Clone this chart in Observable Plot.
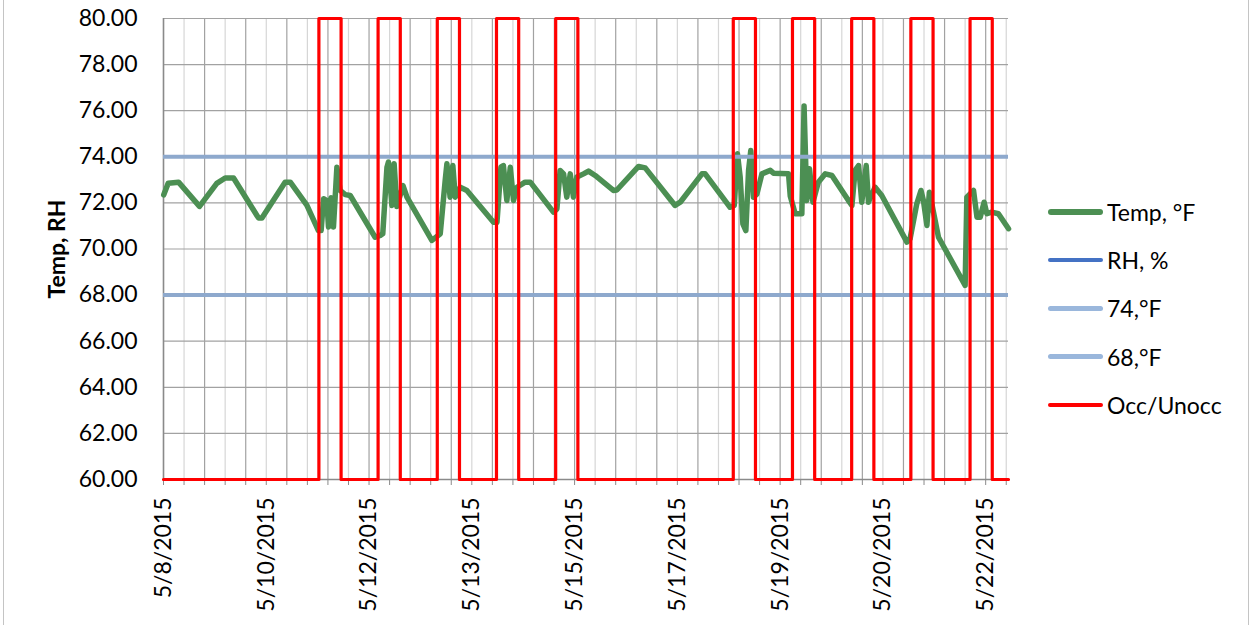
<!DOCTYPE html>
<html>
<head>
<meta charset="utf-8">
<script src="https://cdn.jsdelivr.net/npm/d3@7"></script>
<script src="https://cdn.jsdelivr.net/npm/@observablehq/plot@0.6"></script>
<style>
  body { margin: 0; background: #fff; }
  #chart { position: relative; width: 1252px; height: 625px; font-family: Lato, "Open Sans", sans-serif; color: #000; }
  #frame { position: absolute; left: 3px; top: 0; width: 1244px; height: 625px; border-left: 1px solid #c4c4c4; border-right: 1px solid #c4c4c4; pointer-events: none; }
  #ylabel { position: absolute; left: 56px; top: 249px; transform: translate(-50%, -50%) rotate(-90deg); font-weight: bold; font-size: 23px; white-space: nowrap; }
  #legend { position: absolute; left: 1048px; top: 188px; font-size: 23px; }
  .row { display: flex; align-items: center; height: 48.2px; }
  .sw { width: 55px; margin-right: 4px; border-radius: 3px; }
</style>
</head>
<body>
<div id="chart"><div id="frame"></div></div>
<script>
// Logger start and sampling (one reading every 5 minutes)
const loggerStart = "2015-05-08T16:00:00Z";
const sampleMinutes = 5;
const sampleCount = 4112;
const samplesPerMinorTick = 100;
const samplesPerLabel = 500;

// Temperature readings: hours since logger start, °F
const tempHours = [0.1,1.9,6.1,14.6,21.6,25.0,28.4,38.5,39.9,49.3,
  51.4,58.1,62.8,63.9,64.9,66.2,66.9,67.9,68.9,70.3,
  71.6,73.7,75.7,85.8,87.9,88.9,90.6,91.2,92.6,93.5,
  94.6,97.1,98.7,108.8,112.2,114.2,114.9,116.2,117.3,118.3,
  120.3,123.0,133.8,135.2,136.8,137.8,139.2,140.6,141.9,143.3,
  146.6,148.7,158.1,159.5,160.8,162.2,163.5,164.9,166.2,167.6,
  170.3,172.3,175.0,182.4,183.8,192.6,195.3,207.4,209.5,218.3,
  219.6,229.7,231.4,232.7,233.8,234.9,236.1,237.2,238.1,239.2,
  240.6,242.6,246.0,247.3,253.4,254.1,256.1,258.8,259.7,260.8,
  261.9,263.3,265.5,268.3,271.0,277.7,279.1,280.4,281.8,283.1,
  284.9,285.8,288.5,291.2,301.4,302.7,305.4,307.1,308.1,309.5,
  310.5,311.5,314.2,325.0,325.7,328.4,329.8,331.1,332.7,333.8,
  335.8,338.5,342.6];
const tempValues = [72.35,72.85,72.9,71.85,72.85,73.08,73.08,71.35,71.35,72.9,
  72.9,71.9,70.8,70.8,72.18,72.1,70.95,72.22,70.95,73.55,
  72.54,72.36,72.32,70.51,70.59,70.66,73.55,73.77,71.89,73.7,
  71.84,72.75,72.25,70.37,70.66,72.97,73.7,72.25,73.62,72.25,
  72.68,72.54,71.16,71.16,73.55,73.62,72.1,73.55,72.1,72.68,
  72.9,72.9,71.6,71.74,73.41,73.26,72.25,73.26,72.25,73.12,
  73.26,73.38,73.19,72.54,72.56,73.58,73.52,71.89,72.03,73.26,
  73.26,71.81,71.89,74.13,73.12,71.09,70.8,73.41,74.27,72.25,
  72.39,73.26,73.41,73.29,73.26,72.3,71.53,71.53,76.2,72.1,
  73.48,72.03,72.9,73.26,73.19,72.1,71.89,73.41,73.62,72.03,
  73.62,72.03,72.68,72.32,70.3,70.45,71.96,72.54,72.1,71.02,
  72.46,71.96,70.51,68.42,72.25,72.54,71.38,71.38,72.03,71.53,
  71.6,71.53,70.88];

// Comfort band limits, °F
const upperLimit = 74;
const lowerLimit = 68;

// Occupancy schedule: weekdays, 07:00 to 16:00
const occupiedDays = ["2015-05-11","2015-05-12","2015-05-13","2015-05-14","2015-05-15",
                      "2015-05-18","2015-05-19","2015-05-20","2015-05-21","2015-05-22"];
const occupiedFrom = "07:00";
const occupiedUntil = "16:00";
const occupiedLevel = 80;
const unoccupiedLevel = 60;

// Axis ticks
const yTicks = [60, 62, 64, 66, 68, 70, 72, 74, 76, 78, 80];
const xTickLabels = ["5/8/2015","5/10/2015","5/12/2015","5/13/2015","5/15/2015",
                     "5/17/2015","5/19/2015","5/20/2015","5/22/2015"];

// Legend entries
const seriesNames = ["Temp, °F", "RH, %", "74,°F", "68,°F", "Occ/Unocc"];

const colors = {temp: "#4c8f53", rh: "#4472c4", limit: "#8ea9cd", limitKey: "#9ab7dc", occ: "#ff0000"};
const t0 = Date.parse(loggerStart);
const minute = 60e3, hour = 3600e3;
const tEnd = new Date(t0 + (sampleCount - 1) * sampleMinutes * minute);

const tempRows = tempHours.map((h, i) => ({t: new Date(t0 + h * hour), v: tempValues[i]}));

const occRows = [{t: new Date(t0), v: unoccupiedLevel}];
for (const day of occupiedDays) {
  occRows.push({t: new Date(`${day}T${occupiedFrom}:00Z`), v: occupiedLevel});
  occRows.push({t: new Date(`${day}T${occupiedUntil}:00Z`), v: unoccupiedLevel});
}
occRows.push({t: tEnd, v: unoccupiedLevel});

const minorTicks = d3.range(0, Math.floor((sampleCount - 1) / samplesPerMinorTick) + 1)
  .map(k => new Date(t0 + k * samplesPerMinorTick * sampleMinutes * minute));
const labelTicks = xTickLabels.map((_, i) => new Date(t0 + i * samplesPerLabel * sampleMinutes * minute));
const labelByTime = new Map(labelTicks.map((d, i) => [+d, xTickLabels[i]]));

const plot = Plot.plot({
  width: 1252,
  height: 625,
  marginLeft: 163,
  marginRight: 244,
  marginTop: 18,
  marginBottom: 146,
  style: {fontFamily: "Lato, 'Open Sans', sans-serif", fontSize: "23px", color: "#000", background: "transparent", overflow: "visible"},
  x: {type: "utc", domain: [new Date(t0), tEnd]},
  y: {domain: [60, 80]},
  marks: [
    Plot.ruleX(minorTicks.filter((_, k) => k % 2 === 1), {stroke: "#d6d6d6", strokeWidth: 1.2}),
    Plot.ruleX(minorTicks.filter((_, k) => k % 2 === 0), {stroke: "#a2a2a2", strokeWidth: 1.2}),
    Plot.ruleY(yTicks, {stroke: "#a2a2a2", strokeWidth: 1.2}),
    Plot.ruleX([new Date(t0)], {stroke: "#8a8a8a", strokeWidth: 1.5}),
    Plot.ruleY([60], {stroke: "#8a8a8a", strokeWidth: 1.5}),
    Plot.axisY({ticks: yTicks, tickSize: 0, tickPadding: 26, tickFormat: d => d.toFixed(2), label: null}),
    Plot.axisX({ticks: minorTicks, tickSize: 6, tickFormat: () => "", stroke: "#8a8a8a", label: null}),
    Plot.axisX({ticks: labelTicks, tickSize: 0, tickPadding: 18, tickRotate: -90, tickFormat: d => labelByTime.get(+d), label: null}),
    Plot.line(tempRows, {x: "t", y: "v", stroke: colors.temp, strokeWidth: 5.5, strokeLinejoin: "round", strokeLinecap: "round"}),
    Plot.ruleY([upperLimit, lowerLimit], {stroke: colors.limit, strokeWidth: 4}),
    Plot.line(occRows, {x: "t", y: "v", curve: "step-after", stroke: colors.occ, strokeWidth: 3.2})
  ]
});

const chart = document.getElementById("chart");
chart.insertBefore(plot, chart.firstChild);

const ylabel = document.createElement("div");
ylabel.id = "ylabel";
ylabel.textContent = "Temp, RH";
chart.appendChild(ylabel);

const swatchStyle = [
  {color: colors.temp, width: 5.5},
  {color: colors.rh, width: 4},
  {color: colors.limitKey, width: 4.5},
  {color: colors.limitKey, width: 4.5},
  {color: colors.occ, width: 3.5}
];
const legend = document.createElement("div");
legend.id = "legend";
seriesNames.forEach((name, i) => {
  const row = document.createElement("div");
  row.className = "row";
  const sw = document.createElement("div");
  sw.className = "sw";
  sw.style.height = swatchStyle[i].width + "px";
  sw.style.background = swatchStyle[i].color;
  const label = document.createElement("span");
  label.textContent = name;
  row.appendChild(sw);
  row.appendChild(label);
  legend.appendChild(row);
});
chart.appendChild(legend);
</script>
</body>
</html>
